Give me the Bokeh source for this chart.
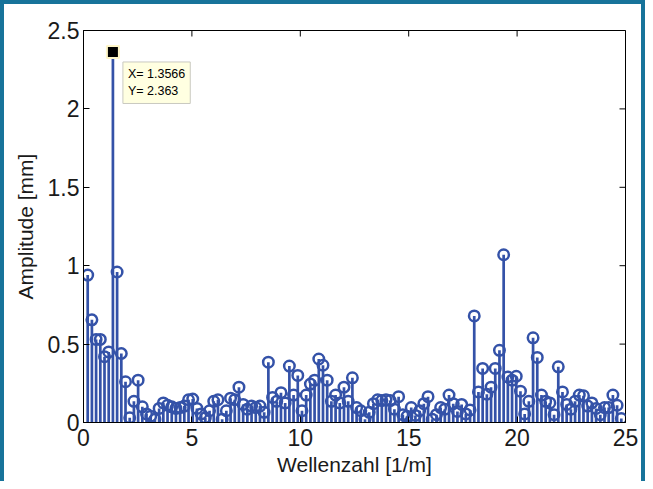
import numpy as np
from bokeh.plotting import figure
from bokeh.models import Range1d, Label, ColumnDataSource, FixedTicker
from bokeh.embed import file_html
from bokeh.resources import INLINE

# ---- data ----
tip_x = 1.3566
tip_y = 2.363
peak_index = 7  # the data tip sits on the 7th wavenumber bin
amplitude = [
    0.94, 0.655, 0.53, 0.53, 0.42, 0.45, 2.363, 0.96, 0.44, 0.26,
    0.03, 0.135, 0.27, 0.10, 0.055, 0.04, 0.02, 0.09, 0.125, 0.11,
    0.10, 0.09, 0.095, 0.105, 0.145, 0.15, 0.09, 0.055, 0.03, 0.075,
    0.135, 0.145, 0.02, 0.075, 0.155, 0.145, 0.225, 0.115, 0.085, 0.105,
    0.095, 0.105, 0.065, 0.385, 0.16, 0.135, 0.19, 0.125, 0.36, 0.175,
    0.30, 0.075, 0.175, 0.245, 0.27, 0.405, 0.365, 0.27, 0.135, 0.175,
    0.125, 0.225, 0.135, 0.285, 0.095, 0.075, 0.02, 0.065, 0.12, 0.145,
    0.14, 0.145, 0.14, 0.085, 0.165, 0.05, 0.04, 0.095, 0.045, 0.075,
    0.12, 0.165, 0.02, 0.05, 0.095, 0.085, 0.175, 0.12, 0.07, 0.115,
    0.055, 0.08, 0.68, 0.195, 0.345, 0.18, 0.225, 0.345, 0.46, 1.07,
    0.29, 0.27, 0.295, 0.2, 0.055, 0.135, 0.54, 0.415, 0.175, 0.135,
    0.125, 0.05, 0.355, 0.195, 0.115, 0.085, 0.135, 0.175, 0.17, 0.105,
    0.125, 0.09, 0.05, 0.095, 0.095, 0.175, 0.11, 0.025,
]
x_ticks = [0, 5, 10, 15, 20, 25]
y_ticks = [0, 0.5, 1, 1.5, 2, 2.5]
y_tick_labels = ["0", "0.5", "1", "1.5", "2", "2.5"]
x_label = "Wellenzahl [1/m]"
y_label = "Amplitude [mm]"

step = tip_x / peak_index
wavenumber = step * np.arange(1, len(amplitude) + 1)
x_min, x_max = x_ticks[0], x_ticks[-1]
y_min, y_max = y_ticks[0], y_ticks[-1]

src = ColumnDataSource(dict(x=wavenumber, y=amplitude, y0=np.zeros(len(amplitude))))

STEM = "#3452a8"
FONT = "Liberation Sans"
TXT = "#1a1a1a"
FRAME = "#17739a"

p = figure(
    width=645, height=481,
    frame_width=542, frame_height=392,
    min_border_left=79, min_border_right=16, min_border_top=26, min_border_bottom=59,
    x_range=Range1d(x_min, x_max), y_range=Range1d(y_min, y_max),
    output_backend="svg", toolbar_location=None,
    background_fill_color="white", border_fill_color="white",
    styles={"border-top": f"4px solid {FRAME}", "border-left": f"4px solid {FRAME}",
            "border-right": f"4px solid {FRAME}", "box-sizing": "border-box"},
)
p.grid.visible = False
p.outline_line_color = "black"
p.outline_line_width = 1

# stems and open circles
p.segment(x0="x", y0="y0", x1="x", y1="y", source=src, line_color=STEM, line_width=2.7)
p.scatter(x="x", y="y", source=src, marker="circle", size=10.5, fill_color=None,
          line_color=STEM, line_width=2.5)

# inward tick marks on the top and right edges of the box (clipped to the frame)
p.scatter(x=x_ticks, y=[y_max] * len(x_ticks), marker="dash", angle=np.pi / 2,
          size=12, line_color="black", line_width=1)
p.scatter(x=[x_max] * len(y_ticks), y=y_ticks, marker="dash",
          size=12, line_color="black", line_width=1)

# data tip
p.scatter(x=[tip_x], y=[tip_y], marker="square", size=12, fill_color="black",
          line_color="#fff6c8", line_width=2)
p.add_layout(Label(
    x=tip_x, y=tip_y, x_offset=10, y_offset=-10,
    text=f"X= {tip_x}\nY= {tip_y}",
    text_align="left", text_baseline="top",
    text_font=FONT, text_font_size="12.5px", text_color="black",
    text_line_height=1.25,
    background_fill_color="#ffffe1", border_line_color="#c9c9c0",
    padding=5,
))

p.xaxis.ticker = FixedTicker(ticks=x_ticks)
p.yaxis.ticker = FixedTicker(ticks=y_ticks)
p.yaxis.major_label_overrides = {t: l for t, l in zip(y_ticks, y_tick_labels)}
p.xaxis.axis_label = x_label
p.yaxis.axis_label = y_label
for ax in (p.xaxis[0], p.yaxis[0]):
    ax.axis_line_color = "black"
    ax.major_tick_line_color = "black"
    ax.major_tick_in = 6
    ax.major_tick_out = 0
    ax.minor_tick_line_color = None
    ax.major_label_text_font = FONT
    ax.major_label_text_color = TXT
    ax.axis_label_text_font = FONT
    ax.axis_label_text_color = TXT
    ax.axis_label_text_font_style = "normal"
    ax.major_label_text_font_size = "23px"
    ax.axis_label_text_font_size = "21px"
p.xaxis.major_label_standoff = 6
p.xaxis.axis_label_standoff = 4
p.yaxis.major_label_standoff = 4
p.yaxis.axis_label_standoff = 8

open("out.html", "w").write(file_html(p, INLINE))
